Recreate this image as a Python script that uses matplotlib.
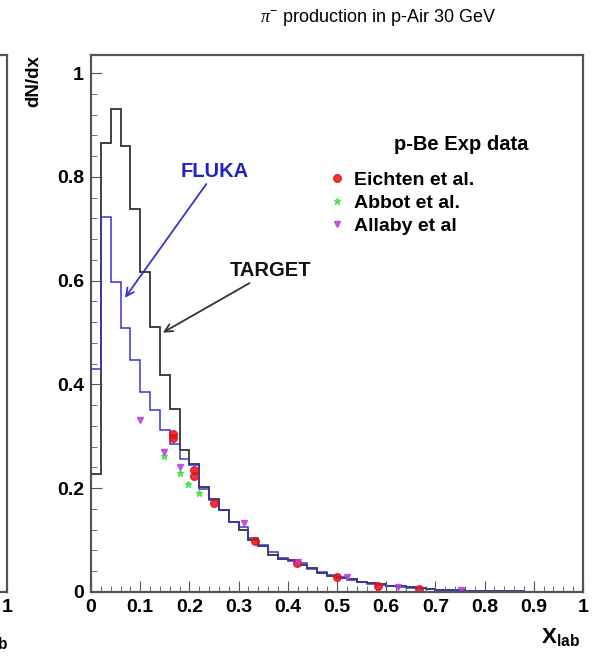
import numpy as np
import matplotlib
matplotlib.use('Agg')
import matplotlib.pyplot as plt

plt.rcParams['font.family'] = ['Liberation Sans', 'DejaVu Sans']
plt.rcParams['mathtext.fontset'] = 'custom'
plt.rcParams['mathtext.rm'] = 'Liberation Sans'
plt.rcParams['mathtext.bf'] = 'Liberation Sans:bold'
plt.rcParams['mathtext.it'] = 'Liberation Serif:italic'

### DATA
# histogram bin edges (0.02 wide) over x_lab
bin_edges = np.linspace(0, 1, 51)

# TARGET simulation (black histogram)
target_vals = [0.227, 0.866, 0.930, 0.860, 0.739, 0.616, 0.510, 0.418, 0.352, 0.273,
               0.247, 0.203, 0.180, 0.158, 0.135, 0.120, 0.100, 0.088, 0.072, 0.063,
               0.062, 0.052, 0.046, 0.036, 0.031, 0.027, 0.025, 0.020, 0.017, 0.015,
               0.012, 0.011, 0.009, 0.007, 0.006, 0.004, 0.003, 0.003, 0.002, 0.002,
               0.002, 0.001, 0.001, 0.001, 0.0, 0.0, 0.0, 0.0, 0.0, 0.0]

# FLUKA simulation (blue histogram)
fluka_vals = [0.430, 0.722, 0.597, 0.508, 0.447, 0.385, 0.351, 0.313, 0.286, 0.257,
              0.244, 0.199, 0.178, 0.158, 0.135, 0.126, 0.105, 0.090, 0.078, 0.065,
              0.060, 0.055, 0.045, 0.038, 0.032, 0.028, 0.024, 0.020, 0.016, 0.014,
              0.012, 0.010, 0.008, 0.007, 0.005, 0.004, 0.003, 0.003, 0.002, 0.002,
              0.002, 0.001, 0.001, 0.001, 0.0, 0.0, 0.0, 0.0, 0.0, 0.0]

# p-Be experimental data
eichten_x = [0.166, 0.166, 0.209, 0.209, 0.249, 0.333, 0.418, 0.50, 0.583, 0.667]
eichten_y = [0.305, 0.297, 0.236, 0.223, 0.172, 0.099, 0.055, 0.028, 0.012, 0.006]

abbot_x = [0.149, 0.180, 0.198, 0.220]
abbot_y = [0.262, 0.229, 0.208, 0.190]

allaby_x = [0.100, 0.149, 0.180, 0.310, 0.420, 0.520, 0.624, 0.753]
allaby_y = [0.331, 0.270, 0.241, 0.133, 0.058, 0.029, 0.010, 0.004]

FRAME = '#555555'

### PLOTTING
fig = plt.figure(figsize=(5.96, 6.57), dpi=100)
ax = fig.add_axes([91 / 596, 1 - 592 / 657, 492 / 596, 537 / 657])

ax.stairs(target_vals, bin_edges, color='#333333', lw=1.3, baseline=0)
ax.stairs(fluka_vals, bin_edges, color='#3535c8', lw=1.1, baseline=0)

ax.plot(eichten_x, eichten_y, 'o', color='#e8101a', ms=5.5, mec='#e8101a',
        label='Eichten et al.', alpha=0.85)
ax.plot(abbot_x, abbot_y, '*', color='#40e040', ms=5, label='Abbot et al.',
        alpha=0.85)
ax.plot(allaby_x, allaby_y, 'v', color='#c03ce0', ms=5, label='Allaby et al',
        alpha=0.85)

ax.set_xlim(0, 1)
ax.set_ylim(0, 1.035)
ax.set_xticks(np.arange(0, 1.01, 0.1))
ax.set_xticklabels(['0', '0.1', '0.2', '0.3', '0.4', '0.5', '0.6', '0.7',
                    '0.8', '0.9', '1'])
ax.set_xticks(np.arange(0, 1.001, 0.02), minor=True)
ax.set_yticks([0, 0.2, 0.4, 0.6, 0.8, 1.0])
ax.set_yticklabels(['0', '0.2', '0.4', '0.6', '0.8', '1'])
ax.set_yticks(np.arange(0, 1.001, 0.04), minor=True)
ax.tick_params(which='both', direction='in', color=FRAME, top=False, right=False)
ax.tick_params(which='major', length=8, width=0.8, labelsize=14, pad=5)
ax.tick_params(which='minor', length=4, width=0.6)
for lbl in ax.get_xticklabels() + ax.get_yticklabels():
    lbl.set_fontweight('bold')
for sp in ax.spines.values():
    sp.set_color(FRAME)
    sp.set_linewidth(1.6)

# legend
leg = ax.legend(loc='upper left', bbox_to_anchor=(0.47, 0.798), frameon=False,
                fontsize=14, handlelength=0.7, handletextpad=0.55,
                labelspacing=0.28, borderaxespad=0)
for t in leg.get_texts():
    t.set_fontweight('bold')
ax.text(0.752, 0.863, 'p-Be Exp data', ha='center', va='center',
        fontsize=14.5, fontweight='bold', transform=ax.transData)

# annotations
ax.annotate('FLUKA', xy=(0.069, 0.567), xytext=(0.183, 0.81),
            color='#2222c0', fontsize=14.5, fontweight='bold', va='center',
            arrowprops=dict(arrowstyle='->', color='#3535c8', lw=1.3,
                            shrinkA=0, shrinkB=0, mutation_scale=14),
            annotation_clip=False)
ax.annotate('TARGET', xy=(0.146, 0.50), xytext=(0.283, 0.619),
            color='#111111', fontsize=14.5, fontweight='bold', va='center',
            arrowprops=dict(arrowstyle='->', color='#333333', lw=1.3,
                            shrinkA=0, shrinkB=0, mutation_scale=14))

# titles and axis labels
fig.text(378 / 596, 1 - 18 / 657, r'$\mathit{\pi}^{-}$ production in p-Air 30 GeV',
         ha='center', va='center', fontsize=13)
fig.text(34 / 596, 1 - 55 / 657, 'dN/dx', rotation=90, ha='center', va='top',
         fontsize=13.5, fontweight='bold')
fig.text(580 / 596, 1 - 637 / 657, r'$\mathbf{X}_{\mathbf{lab}}$', ha='right',
         va='center', fontsize=16)

# sliver of neighbouring panel on the left
ax2 = fig.add_axes([-0.3, 1 - 592 / 657, 0.3 + 7 / 596, 537 / 657])
ax2.set_xlim(0, 1)
ax2.set_ylim(0, 1.035)
ax2.set_yticks([])
ax2.set_xticks([1])
ax2.set_xticklabels(['1'], fontweight='bold')
ax2.tick_params(direction='in', length=0, labelsize=14, pad=5)
for sp in ax2.spines.values():
    sp.set_color(FRAME)
    sp.set_linewidth(1.6)
fig.text(8 / 596, 1 - 640 / 657, r'$\mathbf{X}_{\mathbf{lab}}$', ha='right',
         va='center', fontsize=16)

fig.savefig('out.png', dpi=100)
